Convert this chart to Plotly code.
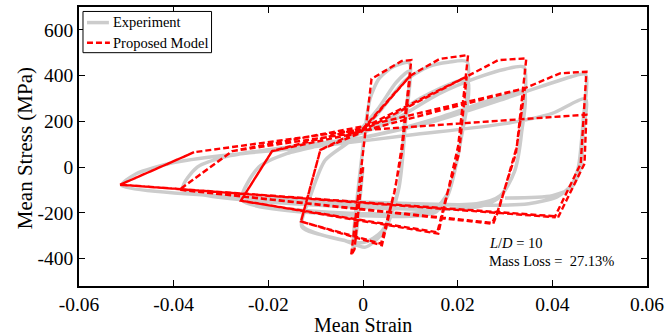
import plotly.graph_objects as go

# Proposed model: mean strain / mean stress (MPa), piecewise-linear path
model_strain = [0.0, -0.0018, -0.0025, 0.0018, 0.0082, 0.0102,
                0.0082, 0.0068, 0.0040, -0.0131, -0.0090, -0.0005, 0.0100,
                0.0082, 0.0066, 0.0038, -0.0131, -0.0090, 0.0, 0.0100, 0.0162, 0.0222,
                0.0201, 0.0177, 0.0159, -0.0258, -0.0192, -0.0010, 0.0219,
                0.0203, 0.0176, 0.0157, -0.0258, -0.0192, 0.0, 0.0219, 0.0286, 0.0345,
                0.0325, 0.0287, 0.0275, -0.0388, -0.0276, -0.0015, 0.0342,
                0.0323, 0.0285, 0.0273, -0.0388, -0.0276, 0.0, 0.0342, 0.0416, 0.0472,
                0.0460, 0.0405, -0.0513, -0.0357, -0.0030, 0.0472,
                0.0468, 0.0413, -0.0513, -0.0357]
model_stress = [0, -360, -385, 386, 464, 468,
                92, -96, -342, -238, 75, 150, 400,
                60, -110, -335, -238, 75, 168, 400, 473, 490,
                92, -125, -291, -147, 70, 150, 396,
                60, -130, -285, -147, 70, 172, 396, 468, 475,
                90, -185, -248, -99, 70, 150, 345,
                60, -190, -244, -99, 70, 178, 345, 410, 417,
                15, -219, -77, 65, 157, 229,
                15, -216, -77, 65]

# Experiment: measured mean stress-strain response
exp_strain = [0.0, -0.0012, -0.0018, -0.0022, -0.0005, 0.0015, 0.0035, 0.0065, 0.0098,
              0.0088, 0.0075, 0.0045, 0.0005, -0.0040, -0.0129,
              -0.0110, -0.0080, -0.0030, 0.0030, 0.0070, 0.0098,
              0.0090, 0.0075, 0.0040, 0.0, -0.0129,
              -0.0110, -0.0080, -0.0030, 0.0030, 0.0090, 0.0140, 0.0180, 0.0220,
              0.0205, 0.0180, 0.0155, 0.0100, -0.0255,
              -0.0220, -0.0160, -0.0060, 0.0040, 0.0120, 0.0220,
              0.0205, 0.0180, 0.0150, 0.0050, -0.0255,
              -0.0220, -0.0160, -0.0060, 0.0060, 0.0160, 0.0240, 0.0300, 0.0340,
              0.0335, 0.0320, 0.0290, 0.0250, 0.0150, -0.0380,
              -0.0350, -0.0280, -0.0150, 0.0, 0.0150, 0.0280, 0.0340,
              0.0335, 0.0320, 0.0290, 0.0240, -0.0380,
              -0.0350, -0.0280, -0.0150, 0.0, 0.0150, 0.0300, 0.0380, 0.0440, 0.0470,
              0.0465, 0.0455, 0.0440, 0.0410, 0.0350, 0.0200, -0.0510,
              -0.0480, -0.0400, -0.0300, -0.0100, 0.0100, 0.0300, 0.0400, 0.0470,
              0.0465, 0.0460, 0.0440, 0.0400, 0.0300]
exp_stress = [0, -250, -345, -360, 0, 300, 390, 440, 456,
              200, -100, -280, -350, -320, -262,
              -120, 30, 110, 250, 370, 420,
              200, -100, -280, -330, -255,
              -120, 30, 110, 230, 380, 440, 458, 460,
              100, -120, -195, -215, -145,
              0, 60, 110, 190, 300, 380,
              100, -110, -185, -205, -140,
              0, 60, 110, 200, 320, 390, 428, 437,
              150, -20, -130, -170, -185, -95,
              0, 50, 90, 130, 210, 300, 330,
              150, -20, -125, -160, -95,
              0, 50, 90, 130, 200, 300, 355, 395, 405,
              200, 0, -80, -130, -160, -165, -80,
              -30, 20, 50, 90, 140, 190, 235, 298,
              150, 0, -90, -125, -135]

x_ticks = [-0.06, -0.04, -0.02, 0, 0.02, 0.04, 0.06]
x_tick_text = ["-0.06", "-0.04", "-0.02", "0", "0.02", "0.04", "0.06"]
y_ticks = [-400, -200, 0, 200, 400, 600]
y_tick_text = ["-400", "-200", "0", "200", "400", "600"]

GRAY = "rgb(204,204,204)"
RED = "rgb(255,0,0)"
FONT = "Liberation Serif"
DASH = "6px,3px"

W, H = 669, 335
ML, MR, MT, MB = 79, 20, 5, 49


def px_x(p):
    return (p - ML) / (W - ML - MR)


def px_y(p):
    return (H - MB - p) / (H - MT - MB)


fig = go.Figure()
fig.add_trace(go.Scatter(x=exp_strain, y=exp_stress, mode="lines",
                         line=dict(color=GRAY, width=3.5, shape="spline", smoothing=0.7),
                         name="Experiment", showlegend=False))
fig.add_trace(go.Scatter(x=model_strain, y=model_stress, mode="lines",
                         line=dict(color=RED, width=2.4, dash=DASH),
                         name="Proposed Model", showlegend=False))

axis_common = dict(showline=True, linecolor="black", linewidth=1.5, mirror="allticks",
                   ticks="inside", ticklen=6, tickwidth=1, tickcolor="black",
                   showgrid=False, zeroline=False,
                   tickfont=dict(family=FONT, size=19.5, color="black"))

fig.update_xaxes(range=[-0.06, 0.06], tickvals=x_ticks, ticktext=x_tick_text, **axis_common)
fig.update_yaxes(range=[-520, 700], tickvals=y_ticks, ticktext=y_tick_text, **axis_common)

shapes = [
    dict(type="rect", xref="paper", yref="paper", x0=px_x(83), x1=px_x(212),
         y0=px_y(51), y1=px_y(9.5), line=dict(color="black", width=1), fillcolor="white"),
    dict(type="line", xref="paper", yref="paper", x0=px_x(87), x1=px_x(109),
         y0=px_y(20.7), y1=px_y(20.7), line=dict(color=GRAY, width=3.5)),
    dict(type="line", xref="paper", yref="paper", x0=px_x(87), x1=px_x(110),
         y0=px_y(41), y1=px_y(41), line=dict(color=RED, width=2.4, dash=DASH)),
]

annotations = [
    dict(text="Experiment", xref="paper", yref="paper", x=px_x(111), y=px_y(20.5),
         xanchor="left", yanchor="middle", showarrow=False,
         font=dict(family=FONT, size=14.5, color="black")),
    dict(text="Proposed Model", xref="paper", yref="paper", x=px_x(111), y=px_y(41),
         xanchor="left", yanchor="middle", showarrow=False,
         font=dict(family=FONT, size=14.5, color="black")),
    dict(text="<i>L</i>/<i>D</i> = 10", xref="paper", yref="paper", x=px_x(488), y=px_y(243),
         xanchor="left", yanchor="middle", showarrow=False,
         font=dict(family=FONT, size=14.5, color="black")),
    dict(text="Mass Loss =  27.13%", xref="paper", yref="paper", x=px_x(488), y=px_y(261),
         xanchor="left", yanchor="middle", showarrow=False,
         font=dict(family=FONT, size=14.5, color="black")),
    dict(text="Mean Strain", xref="paper", yref="paper", x=px_x(364), y=px_y(325),
         xanchor="center", yanchor="middle", showarrow=False,
         font=dict(family=FONT, size=20, color="black")),
    dict(text="Mean Stress (MPa)", xref="paper", yref="paper", x=px_x(25), y=px_y(147),
         xanchor="center", yanchor="middle", showarrow=False, textangle=-90,
         font=dict(family=FONT, size=21, color="black")),
]

fig.update_layout(width=W, height=H, margin=dict(l=ML, r=MR, t=MT, b=MB),
                  paper_bgcolor="white", plot_bgcolor="white", showlegend=False,
                  font=dict(family=FONT),
                  shapes=shapes, annotations=annotations)

fig.write_html("out.html")
